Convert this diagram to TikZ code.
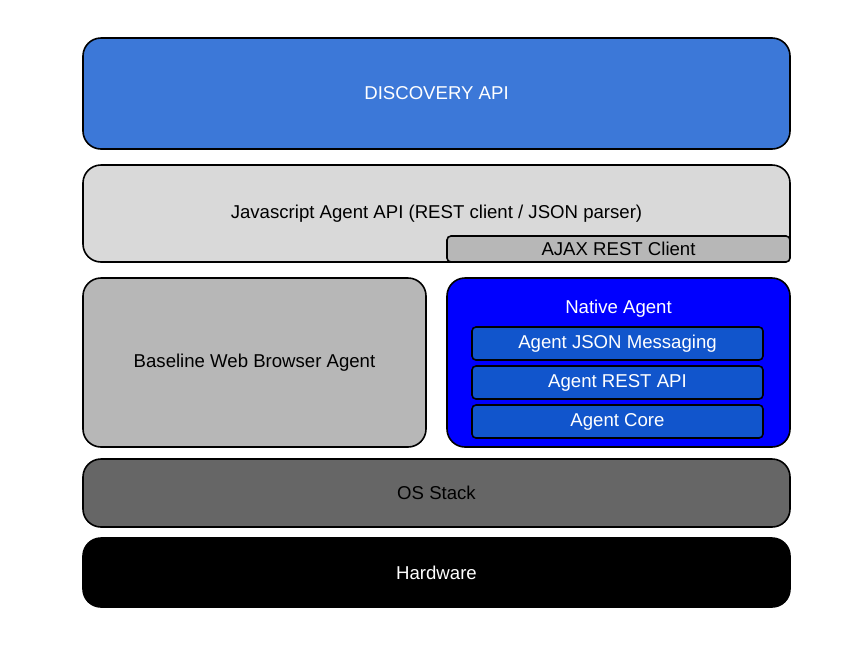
\documentclass[tikz,border=0pt]{standalone}
\usepackage{fontspec}
\setmainfont{Liberation Sans}
\usepackage{tikz}
\definecolor{discblue}{HTML}{3C78D8}
\definecolor{lightgr}{HTML}{D9D9D9}
\definecolor{midgr}{HTML}{B7B7B7}
\definecolor{darkgr}{HTML}{666666}
\definecolor{agentblue}{HTML}{1155CC}
\tikzstyle{layer}=[draw, line width = .8pt, rounded corners = 9pt, inner sep = 0pt, font = \fontsize{9.3}{11}\selectfont]
\tikzstyle{sublayer}=[draw, line width = .8pt, rounded corners = 2pt, inner sep = 0pt, font = \fontsize{9.3}{11}\selectfont]

\begin{document}
\begin{tikzpicture}[x = .5pt, y = -.5pt]
  \useasboundingbox (0,0) rectangle (856,654);
  \node[layer, fill = discblue, text = white, minimum width = 353.5pt, minimum height = 55.5pt] (disc) at (436.5,93.5) {DISCOVERY API};
  \node[layer, fill = lightgr, minimum width = 353.5pt, minimum height = 48.5pt] (jsapi) at (436.5,213.5) {Javascript Agent API (REST client / JSON parser)};
  \node[sublayer, fill = midgr, minimum width = 171.5pt, minimum height = 13pt] (ajax) at (618.5,249) {AJAX REST Client};
  \node[layer, fill = midgr, minimum width = 171.5pt, minimum height = 84.5pt] (browser) at (254.5,362.5) {Baseline Web Browser Agent};
  \node[layer, fill = blue, minimum width = 171.5pt, minimum height = 84.5pt,
        label = {[text = white, anchor = center, yshift = -15.5pt, font = \fontsize{9.3}{11}\selectfont]north:Native Agent}] (native) at (618.5,362.5) {};
  \node[sublayer, fill = agentblue, text = white, minimum width = 145.5pt, minimum height = 16.5pt] (json) at (617.5,343.5) {Agent JSON Messaging};
  \node[sublayer, fill = agentblue, text = white, minimum width = 145.5pt, minimum height = 16.5pt] (rest) at (617.5,382.5) {Agent REST API};
  \node[sublayer, fill = agentblue, text = white, minimum width = 145.5pt, minimum height = 16.5pt] (core) at (617.5,421.5) {Agent Core};
  \node[layer, fill = darkgr, minimum width = 353.5pt, minimum height = 34pt] (os) at (436.5,493) {OS Stack};
  \node[layer, fill = black, text = white, minimum width = 353.5pt, minimum height = 34.5pt] (hw) at (436.5,572.5) {Hardware};
\end{tikzpicture}
\end{document}
